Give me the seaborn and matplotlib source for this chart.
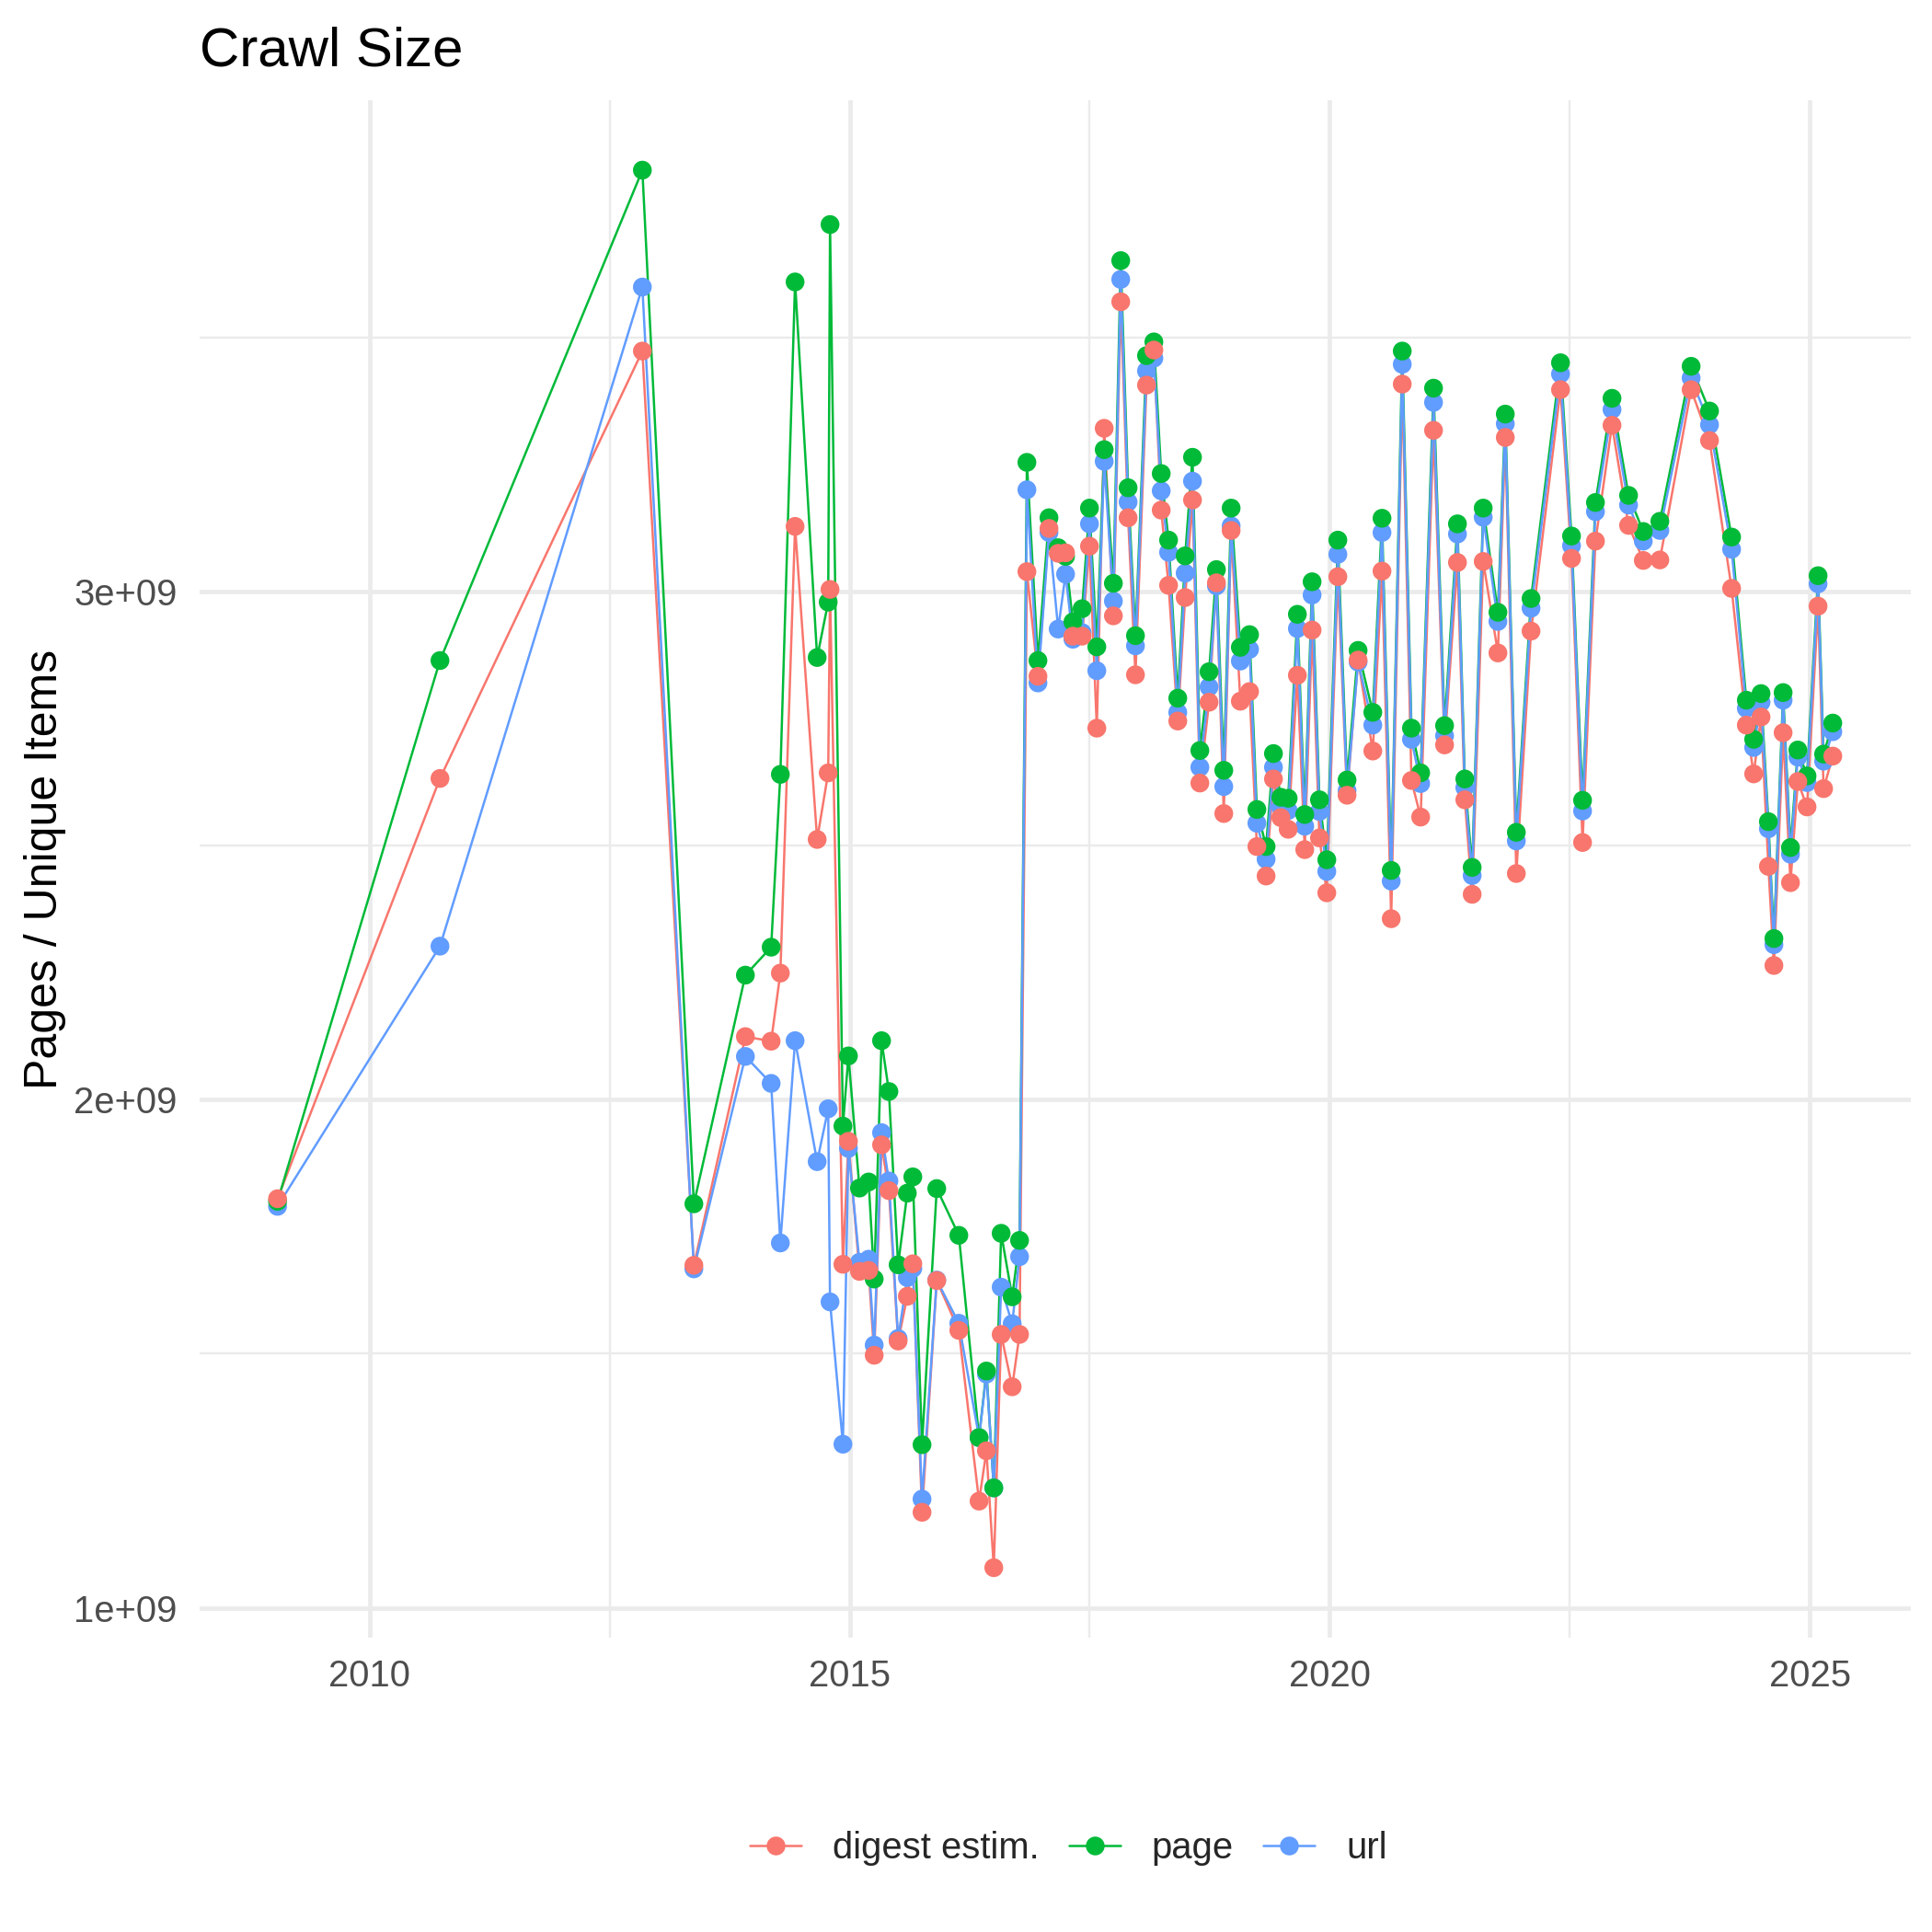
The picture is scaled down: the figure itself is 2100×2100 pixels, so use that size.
import datetime as dt
import numpy as np
import pandas as pd
import matplotlib
matplotlib.use("Agg")
import matplotlib.pyplot as plt
import matplotlib.dates as mdates
from matplotlib.lines import Line2D
from matplotlib.ticker import FixedLocator
import seaborn as sns

# ---------------- data (values in billions) ----------------
crawls = ["2008-2009", "2009-2010", "2012", "2013-20", "2013-48", "2014-10", "2014-15", "2014-23",
          "2014-35", "2014-41", "2014-42", "2014-49", "2014-52", "2015-06", "2015-11", "2015-14",
          "2015-18", "2015-22", "2015-27", "2015-32", "2015-35", "2015-40", "2015-48", "2016-07",
          "2016-18", "2016-22", "2016-26", "2016-30", "2016-36", "2016-40", "2016-44",
          "2016-50", "2017-04", "2017-09", "2017-13", "2017-17", "2017-22", "2017-26", "2017-30",
          "2017-34", "2017-39", "2017-43", "2017-47", "2017-51",
          "2018-05", "2018-09", "2018-13", "2018-17", "2018-22", "2018-26", "2018-30", "2018-34",
          "2018-39", "2018-43", "2018-47", "2018-51",
          "2019-04", "2019-09", "2019-13", "2019-18", "2019-22", "2019-26", "2019-30", "2019-35",
          "2019-39", "2019-43", "2019-47", "2019-51",
          "2020-05", "2020-10", "2020-16", "2020-24", "2020-29", "2020-34", "2020-40", "2020-45",
          "2020-50",
          "2021-04", "2021-10", "2021-17", "2021-21", "2021-25", "2021-31", "2021-39", "2021-43",
          "2021-49",
          "2022-05", "2022-21", "2022-27", "2022-33", "2022-40", "2022-49",
          "2023-06", "2023-14", "2023-23", "2023-40", "2023-50",
          "2024-10", "2024-18", "2024-22", "2024-26", "2024-30", "2024-33", "2024-38", "2024-42",
          "2024-46", "2024-51",
          "2025-05", "2025-08", "2025-13"]

early_crawl_dates = {"2008-2009": "2009-01-15", "2009-2010": "2010-09-25", "2012": "2012-11-03"}

page = [1.800, 2.864, 3.829, 1.795, 2.245, 2.300, 2.640, 3.609, 2.870, 2.979, 3.722, 1.948, 2.086,
        1.826, 1.838, 1.647, 2.116, 2.016, 1.675, 1.816, 1.848, 1.321, 1.825, 1.733, 1.335, 1.466,
        1.236, 1.737, 1.612, 1.723, 3.254,
        2.864, 3.145, 3.086, 3.069, 2.940, 2.966, 3.164, 2.891, 3.279, 3.016, 3.651, 3.204, 2.913,
        3.464, 3.491, 3.232, 3.101, 2.790, 3.070, 3.264, 2.687, 2.842, 3.043, 2.648, 3.164,
        2.890, 2.915, 2.571, 2.498, 2.681, 2.595, 2.593, 2.955, 2.561, 3.019, 2.590, 2.472,
        3.101, 2.629, 2.884, 2.762, 3.144, 2.451, 3.473, 2.731, 2.643,
        3.400, 2.736, 3.133, 2.631, 2.457, 3.164, 2.959, 3.349, 2.526,
        2.986, 3.450, 3.109, 2.589, 3.175, 3.380,
        3.189, 3.118, 3.138, 3.443, 3.355,
        3.107, 2.786, 2.709, 2.799, 2.547, 2.317, 2.801, 2.496, 2.688, 2.637,
        3.031, 2.680, 2.741]

url = [1.790, 2.302, 3.599, 1.667, 2.085, 2.032, 1.718, 2.116, 1.878, 1.982, 1.602, 1.322, 1.904,
       1.680, 1.686, 1.517, 1.935, 1.840, 1.530, 1.650, 1.668, 1.214, 1.645, 1.560, 1.335, 1.460,
       1.236, 1.631, 1.559, 1.691, 3.200,
       2.820, 3.116, 2.926, 3.034, 2.906, 2.919, 3.133, 2.844, 3.256, 2.981, 3.614, 3.176, 2.893,
       3.434, 3.459, 3.198, 3.077, 2.762, 3.036, 3.217, 2.654, 2.812, 3.011, 2.616, 3.129,
       2.863, 2.886, 2.544, 2.473, 2.654, 2.575, 2.569, 2.927, 2.538, 2.993, 2.567, 2.449,
       3.073, 2.608, 2.861, 2.737, 3.116, 2.430, 3.447, 2.709, 2.622,
       3.372, 2.716, 3.113, 2.614, 2.441, 3.146, 2.941, 3.330, 2.509,
       2.967, 3.428, 3.090, 2.568, 3.157, 3.358,
       3.170, 3.099, 3.120, 3.420, 3.328,
       3.083, 2.770, 2.693, 2.782, 2.533, 2.305, 2.786, 2.483, 2.674, 2.624,
       3.015, 2.666, 2.724]

digest = [1.805, 2.632, 3.473, 1.674, 2.124, 2.115, 2.249, 3.128, 2.512, 2.643, 3.004, 1.676, 1.918,
          1.662, 1.664, 1.497, 1.911, 1.821, 1.525, 1.613, 1.677, 1.188, 1.644, 1.546, 1.210, 1.309,
          1.079, 1.538, 1.435, 1.538, 3.039,
          2.833, 3.124, 3.075, 3.076, 2.912, 2.912, 3.089, 2.731, 3.321, 2.952, 3.570, 3.145, 2.836,
          3.406, 3.475, 3.160, 3.012, 2.745, 2.988, 3.180, 2.623, 2.782, 3.017, 2.563, 3.120,
          2.784, 2.803, 2.498, 2.440, 2.631, 2.555, 2.532, 2.835, 2.492, 2.924, 2.515, 2.407,
          3.029, 2.599, 2.865, 2.686, 3.040, 2.356, 3.408, 2.628, 2.556,
          3.317, 2.698, 3.057, 2.590, 2.404, 3.059, 2.879, 3.303, 2.445,
          2.922, 3.397, 3.065, 2.506, 3.099, 3.327,
          3.130, 3.061, 3.062, 3.397, 3.297,
          3.006, 2.737, 2.641, 2.753, 2.459, 2.264, 2.722, 2.427, 2.626, 2.576,
          2.971, 2.612, 2.676]

series_names = ["digest estim.", "page", "url"]
series_colors = ["#F8766D", "#00BA38", "#619CFF"]
y_ticks = [1e9, 2e9, 3e9]
y_tick_labels = ["1e+09", "2e+09", "3e+09"]
x_tick_years = [2010, 2015, 2020, 2025]

assert len(crawls) == len(page) == len(url) == len(digest)


def crawl_date(c):
    if c in early_crawl_dates:
        return pd.Timestamp(early_crawl_dates[c])
    y, w = c.split("-")
    return pd.Timestamp(dt.date.fromisocalendar(int(y), int(w), 1)) + pd.Timedelta(days=5)


dates = [crawl_date(c) for c in crawls]
values = {"digest estim.": digest, "page": page, "url": url}

frames = []
for name in series_names:
    frames.append(pd.DataFrame({"date": dates, "value": np.array(values[name]) * 1e9, "type": name}))
df_lines = pd.concat(frames, ignore_index=True)
# points: url drawn first, then page, then digest on top
df_points = pd.concat([frames[2], frames[1], frames[0]], ignore_index=True)
palette = dict(zip(series_names, series_colors))

# ---------------- style ----------------
sns.set_style("white")
plt.rcParams["font.family"] = ["Liberation Sans", "DejaVu Sans"]

fig = plt.figure(figsize=(7, 7), dpi=300)
ax = fig.add_axes([0.1034, 0.1524, 0.8855, 0.7957])

sns.lineplot(data=df_lines, x="date", y="value", hue="type", hue_order=series_names,
             palette=palette, estimator=None, sort=False, linewidth=0.6, legend=False, ax=ax,
             zorder=2)
sns.scatterplot(data=df_points, x="date", y="value", hue="type", hue_order=series_names,
                palette=palette, s=24, linewidth=0, legend=False, ax=ax, zorder=3)

# ggplot-like 5% expansion
dnum = mdates.date2num(dates)
xr = dnum.max() - dnum.min()
ax.set_xlim(dnum.min() - 0.05 * xr, dnum.max() + 0.05 * xr)
allv = np.concatenate([np.array(v) for v in values.values()]) * 1e9
yr = allv.max() - allv.min()
ax.set_ylim(allv.min() - 0.05 * yr, allv.max() + 0.05 * yr)

ax.yaxis.set_major_locator(FixedLocator(y_ticks))
ax.set_yticklabels(y_tick_labels)
ax.yaxis.set_minor_locator(FixedLocator([1.5e9, 2.5e9, 3.5e9]))

xt = [mdates.date2num(pd.Timestamp(f"{y}-01-01")) for y in x_tick_years]
ax.xaxis.set_major_locator(FixedLocator(xt))
ax.set_xticklabels([str(y) for y in x_tick_years])
xm = [(xt[i] + xt[i + 1]) / 2 for i in range(len(xt) - 1)]
ax.xaxis.set_minor_locator(FixedLocator(xm))

ax.grid(True, which="major", color="#EBEBEB", linewidth=1.15)
ax.grid(True, which="minor", color="#EBEBEB", linewidth=0.58)
ax.set_axisbelow(True)
for sp in ax.spines.values():
    sp.set_visible(False)
ax.tick_params(axis="both", which="both", length=0)
ax.tick_params(axis="x", which="major", labelsize=9.6, labelcolor="#4D4D4D", pad=5.5)
ax.tick_params(axis="y", which="major", labelsize=9.6, labelcolor="#4D4D4D", pad=5.9)

ax.set_xlabel("")
ax.set_ylabel("Pages / Unique Items", fontsize=12, color="black", labelpad=2.0)
ax.set_title("Crawl Size", loc="left", fontsize=14.4, color="black", pad=8.9)

handles = [Line2D([0], [0], color=c, linewidth=0.6, marker="o", markersize=4.9,
                  markeredgewidth=0) for c in series_colors]
fig.legend(handles, series_names, loc="center", bbox_to_anchor=(0.553, 0.0433), ncol=3,
           frameon=False, fontsize=9.6, handlelength=1.4, handletextpad=0.85,
           columnspacing=0.8)

fig.savefig("out.png", dpi=300, facecolor="white")
